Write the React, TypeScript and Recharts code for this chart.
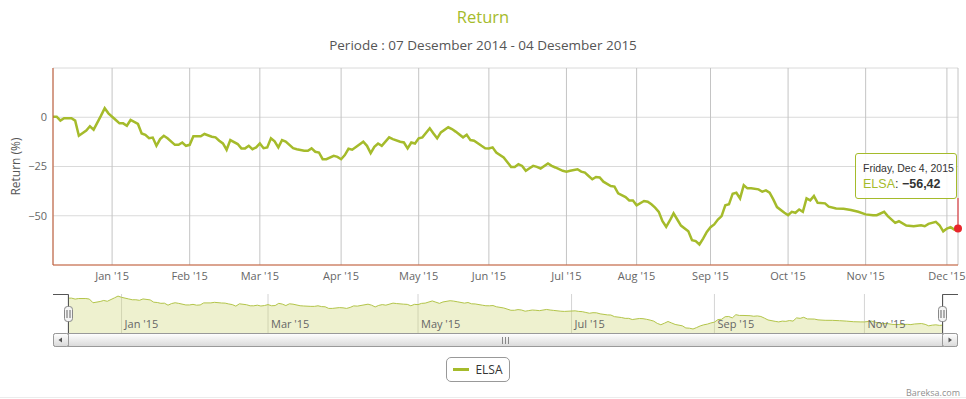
import React from 'react';
import { LineChart, Line, AreaChart, Area, XAxis, YAxis, CartesianGrid, Tooltip, ReferenceLine } from 'recharts';

// trading-day index (0 = 8 Dec 2014) and cumulative return in %
const dayIndex = [
  0, 1, 2, 3, 5, 6, 7, 9, 10, 11, 13, 14, 15, 17, 18, 19, 20, 21, 23, 24,
  25, 26, 27, 28, 29, 30, 31, 33, 34, 35, 36, 37, 38, 40, 41, 43, 44, 45, 46, 47,
  48, 50, 51, 52, 53, 54, 55, 56, 57, 58, 59, 60, 61, 62, 63, 65, 66, 68, 69, 70,
  71, 72, 73, 74, 76, 77, 78, 79, 80, 81, 84, 85, 86, 87, 88, 89, 91, 92, 94, 95,
  96, 97, 98, 99, 100, 102, 103, 104, 105, 107, 108, 109, 111, 112, 113, 114, 116, 117, 118, 119,
  120, 122, 124, 125, 126, 127, 128, 129, 130, 131, 132, 134, 135, 136, 138, 139, 140, 142, 143, 144,
  145, 146, 147, 148, 149, 151, 152, 153, 155, 156, 157, 158, 160, 161, 162, 163, 164, 165, 166, 167,
  168, 169, 170, 172, 173, 174, 175, 176, 177, 178, 179, 180, 181, 182, 183, 184, 185, 186, 187, 188,
  189, 191, 192, 193, 194, 195, 196, 198, 199, 200, 201, 202, 203, 204, 205, 206, 207, 209, 210, 212,
  214, 216, 218, 220, 222, 223, 225, 226, 228, 229, 231, 233, 235, 236, 237, 239, 240, 241, 242, 243,
  244, 245,
];

const returnPct = [
  0.3, 0.3, -1.7, -0.5, -0.5, -1.7, -9.4, -6.8, -4.6, -6.3, 0.8, 4.6, 2.0, -1.4, -3.1, -3.1, -4.3, -1.4, -3.4, -8.2,
  -8.9, -10.6, -10.3, -14.5, -11.1, -9.4, -10.7, -14, -14, -12.8, -14.5, -14, -9.7, -9.7, -8.5, -9.9, -10.2, -11.9, -13.3, -16.5,
  -11.6, -13.6, -15.8, -15.8, -14.5, -16.2, -15.3, -13.3, -15.7, -15.3, -10.7, -12.2, -15.3, -11.6, -12.4, -15.7, -16.2, -17, -17, -15.8,
  -17.5, -17.9, -21.3, -21.3, -19.6, -20.1, -21.3, -19.2, -16.0, -16.5, -12.4, -14.5, -18.2, -15, -13.3, -14.5, -10.2, -11.1, -12.4, -12.8,
  -15.8, -12.8, -13.3, -10.7, -10.2, -5.6, -8.2, -10.7, -7.7, -5.1, -6.0, -7.3, -10.2, -8.9, -11.6, -11.9, -14.5, -15.7, -15.8, -15.3,
  -17.9, -20.4, -25.2, -25.2, -23.8, -24.7, -27.2, -25.9, -24.7, -25.2, -26, -23.5, -24.7, -25.5, -27.2, -27.6, -27.2, -26.4, -27.6, -28.1,
  -29.8, -31.5, -30.3, -30.6, -32.7, -34.9, -35.2, -38.6, -40.5, -42.2, -42.2, -44.7, -42.5, -42.9, -44.2, -45.9, -48, -52.8, -55.6, -52.4,
  -48.8, -51.9, -55, -57.9, -62.4, -62.9, -64.6, -61.6, -58.2, -55.8, -54.4, -51.9, -50.2, -44.7, -44.2, -38.8, -38.3, -41.2, -34.5, -36.1,
  -36.1, -36.6, -37.8, -37.1, -38.3, -41.7, -45.6, -48.5, -49.7, -48, -48.5, -46.8, -48, -41.2, -42.2, -40, -43.4, -43.7, -45.4, -46.3,
  -46.4, -47.1, -48, -49.3, -49.7, -49.7, -48, -50.2, -53.6, -52.8, -55, -55.3, -54.8, -55.3, -54.1, -53.1, -54.8, -57.9, -56.5, -55.8,
  -57, -56.42,
];

const monthTickIdx = [16, 37, 56, 78, 99, 118, 139, 158, 178, 199, 220, 242];
const monthLabels = ["Jan '15", "Feb '15", "Mar '15", "Apr '15", "May '15", "Jun '15", "Jul '15", "Aug '15", "Sep '15", "Oct '15", "Nov '15", "Dec '15"];
const navTickIdx = [15, 56, 98, 141, 181, 223];
const navLabels = ["Jan '15", "Mar '15", "May '15", "Jul '15", "Sep '15", "Nov '15"];
const yTicks = [-75, -50, -25, 0, 25];
const navYDomain = [-73, 9];

const seriesName = 'ELSA';
const lastDateLabel = 'Friday, Dec 4, 2015';

const data = dayIndex.map((d, i) => ({ day: d, ret: returnPct[i] }));
const lastPoint = data[data.length - 1];

const GREEN = '#a5bb2b';
const AXIS = '#c95a32';
const SANS = "'Open Sans', 'DejaVu Sans', sans-serif";

const fmtNum = (v: number) => (v < 0 ? '\u2212' : '') + Math.abs(v).toFixed(2).replace('.', ',');

const YTitle = ({ viewBox }: any) => {
  const cx = viewBox.x + 15;
  const cy = viewBox.y + viewBox.height / 2;
  return (
    <text x={cx} y={cy} transform={`rotate(-90 ${cx} ${cy})`} textAnchor="middle" dominantBaseline="central"
      style={{ fontFamily: SANS, fontSize: 12, fill: '#555' }}>
      Return (%)
    </text>
  );
};

const TipBox = () => (
  <div style={{
    width: 102, height: 46, boxSizing: 'border-box', background: 'rgba(255,255,255,0.88)',
    border: `1px solid ${GREEN}`, borderRadius: 3, padding: '8px 0 0 7px', fontFamily: "'Liberation Sans', Arial, sans-serif",
  }}>
    <div style={{ fontSize: 10.5, color: '#333', lineHeight: '12px' }}>{lastDateLabel}</div>
    <div style={{ fontSize: 12.5, lineHeight: '16px', marginTop: 2 }}>
      <span style={{ color: GREEN }}>{seriesName}</span>
      <span style={{ color: '#333' }}>: </span>
      <b style={{ color: '#333' }}>{fmtNum(lastPoint.ret)}</b>
    </div>
  </div>
);

const NavTick = ({ x, y, payload }: any) => (
  <text x={x + 3} y={y - 5} textAnchor="start" style={{ fontFamily: SANS, fontSize: 11, fill: '#666' }}>
    {navLabels[navTickIdx.indexOf(payload.value)]}
  </text>
);

const Chrome = () => (
  <svg width={966} height={399} style={{ position: 'absolute', left: 0, top: 0, pointerEvents: 'none' }}>
    <defs>
      <linearGradient id="sb" x1="0" y1="0" x2="0" y2="1">
        <stop offset="0" stopColor="#ffffff" />
        <stop offset="1" stopColor="#d9d9d9" />
      </linearGradient>
    </defs>
    {/* navigator outline */}
    <path d="M53 294.5 H68.5 V333" fill="none" stroke="#555" strokeWidth={1} />
    <path d="M942.5 333 V294.5 H958" fill="none" stroke="#555" strokeWidth={1} />
    {/* scrollbar */}
    <rect x={53.5} y={333.5} width={904} height={13} rx={2} fill="#eee" stroke="#aaa" />
    <rect x={68.5} y={333.5} width={874} height={13} fill="url(#sb)" stroke="#999" />
    <rect x={53.5} y={333.5} width={15} height={13} rx={2} fill="url(#sb)" stroke="#999" />
    <rect x={942.5} y={333.5} width={15} height={13} rx={2} fill="url(#sb)" stroke="#999" />
    <path d="M62 337.5 L58.5 340 L62 342.5 Z" fill="#555" />
    <path d="M948.5 337.5 L952 340 L948.5 342.5 Z" fill="#555" />
    <path d="M502.5 337 V344 M505.5 337 V344 M508.5 337 V344" stroke="#888" />
    {/* handles */}
    {[68.5, 942.5].map((hx) => (
      <g key={hx}>
        <rect x={hx - 4} y={306.5} width={8} height={15} rx={3} fill="#f4f4f4" stroke="#888" />
        <path d={`M${hx - 1.5} 310 V318 M${hx + 1.5} 310 V318`} stroke="#666" />
      </g>
    ))}
    <line x1={0} y1={397.5} x2={966} y2={397.5} stroke="#ececec" />
  </svg>
);

export default function App() {
  return (
    <div style={{ position: 'absolute', left: 0, top: 0, width: 966, height: 399, background: '#fff', overflow: 'hidden' }}>
      <div style={{ position: 'absolute', top: 7, width: 966, textAlign: 'center', fontFamily: SANS, fontSize: 16.5, lineHeight: '20px', color: GREEN }}>
        Return
      </div>
      <div style={{ position: 'absolute', top: 36, width: 966, textAlign: 'center', fontFamily: SANS, fontSize: 13.5, lineHeight: '18px', color: '#555' }}>
        Periode : 07 Desember 2014 - 04 Desember 2015
      </div>

      <div style={{ position: 'absolute', left: 0, top: 0 }}>
        <LineChart width={966} height={290} data={data} margin={{ top: 68, right: 8, bottom: 0, left: 0 }}>
          <CartesianGrid vertical={false} stroke="#dadada" />
          <CartesianGrid horizontal={false} stroke="#c4c4c4" />
          <XAxis dataKey="day" type="number" domain={[0, 245]} ticks={monthTickIdx} interval={0} height={25}
            tickFormatter={(v: number) => monthLabels[monthTickIdx.indexOf(v)]}
            axisLine={{ stroke: AXIS }} tickLine={false} tickSize={0} tickMargin={7}
            tick={{ fill: '#666', fontSize: 11, fontFamily: SANS }} />
          <YAxis type="number" domain={[-75, 25]} ticks={yTicks} width={53} interval={0}
            tickFormatter={(v: number) => (v === 25 || v === -75 ? '' : v < 0 ? '\u2212' + Math.abs(v) : String(v))}
            axisLine={{ stroke: AXIS }} tickLine={false} tickSize={0} tickMargin={6}
            tick={{ fill: '#666', fontSize: 11, fontFamily: SANS }} label={<YTitle />} />
          <ReferenceLine segment={[{ x: lastPoint.day, y: lastPoint.ret }, { x: lastPoint.day, y: -41 }]}
            stroke="#e2262b" strokeWidth={1} ifOverflow="visible" />
          <Line type="linear" dataKey="ret" name={seriesName} stroke={GREEN} strokeWidth={2.5} dot={false}
            activeDot={{ r: 4, fill: '#e8262b', stroke: 'none' }} isAnimationActive={false} />
          <Tooltip active defaultIndex={data.length - 1} position={{ x: 855, y: 153 }} cursor={false}
            isAnimationActive={false} content={<TipBox />} wrapperStyle={{ outline: 'none' }} />
        </LineChart>
      </div>

      <div style={{ position: 'absolute', left: 0, top: 290 }}>
        <AreaChart width={966} height={44} data={data} margin={{ top: 4, right: 23, bottom: 0, left: 68 }}>
          <CartesianGrid horizontal={false} stroke="#d4d4d4" />
          <XAxis dataKey="day" type="number" domain={[0, 245]} ticks={navTickIdx} interval={0} height={1}
            axisLine={false} tickLine={false} tickSize={0} tickMargin={0} tick={<NavTick />} />
          <YAxis hide domain={navYDomain} />
          <Area type="linear" dataKey="ret" baseValue={navYDomain[0]} stroke="#b3c54a" strokeWidth={1}
            fill="#ced776" fillOpacity={0.35} isAnimationActive={false} />
        </AreaChart>
      </div>

      <Chrome />

      <div style={{
        position: 'absolute', left: 446, top: 357, width: 64, height: 25, boxSizing: 'border-box',
        border: '1px solid #999', borderRadius: 5, display: 'flex', alignItems: 'center', justifyContent: 'center', gap: 6,
      }}>
        <span style={{ display: 'inline-block', width: 16, height: 2.5, background: GREEN }} />
        <span style={{ fontFamily: SANS, fontSize: 12, color: '#333' }}>{seriesName}</span>
      </div>

      <div style={{ position: 'absolute', right: 6, top: 386, fontFamily: SANS, fontSize: 9, color: '#909090' }}>
        Bareksa.com
      </div>
    </div>
  );
}
